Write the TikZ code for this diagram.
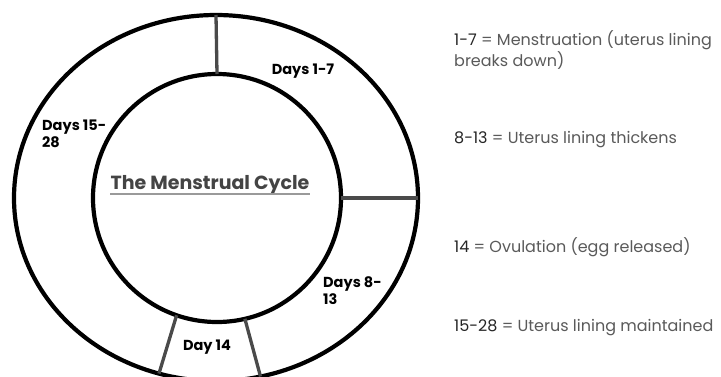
\documentclass[tikz,border=0pt]{standalone}
\usepackage{fontspec}
\setmainfont{Poppins}
\usetikzlibrary{shapes.geometric}
\definecolor{divcol}{HTML}{4A4A4A}
\definecolor{txtgray}{HTML}{5A5A5A}
\definecolor{numcol}{HTML}{262626}
\definecolor{titlecol}{HTML}{444444}
\definecolor{ulcol}{HTML}{9A9A9A}
\tikzset{
  ring/.style={draw=black, line width=4.2pt, inner sep=0pt, outer sep=0pt},
  divider/.style={draw=divcol, line width=3.3pt},
  seglabel/.style={font=\fontsize{14.5}{17}\selectfont\bfseries, text=black, align=left, inner sep=0pt},
  legend/.style={font=\fontsize{16}{17.5}\selectfont, text=txtgray, align=left, anchor=west, inner sep=0pt},
}
\newcommand{\num}[1]{\textcolor{numcol}{#1}}
\begin{document}
\begin{tikzpicture}[x=1pt,y=-1pt]
\clip (0,0) rectangle (721,376);
\fill[white] (0,0) rectangle (721,376);
% rings
\node[ring, ellipse, minimum width=404pt, minimum height=366pt] (outer) at (216,198) {};
\node[ring, circle, minimum size=248pt] (inner) at (217,198) {};
% dividers
\draw[divider] (inner.90) -- (outer.90);
\draw[divider] (inner.0) -- (outer.0);
\draw[divider] (inner.251) -- (outer.252);
\draw[divider] (inner.283.5) -- (outer.284.5);
% segment labels
\node[seglabel] (d17) at (303,71) {Days 1-7};
\node[seglabel, anchor=north west] (d1528) at (42,120) {Days 15-\\28};
\node[seglabel, anchor=north west] (d813) at (323,276) {Days 8-\\13};
\node[seglabel] (d14) at (207,347) {Day 14};
% title
\node[font=\fontsize{19}{22}\selectfont\bfseries, text=titlecol, inner sep=0pt] (title) at (210,185) {The Menstrual Cycle};
\draw[ulcol, line width=1.8pt] ([yshift=-4.5pt]title.base west) -- ([yshift=-4.5pt]title.base east);
% legend
\node[legend] (l1) at (454,50) {\num{1-7} = Menstruation (uterus lining\\breaks down)};
\node[legend] (l2) at (454,140) {\num{8-13} = Uterus lining thickens};
\node[legend] (l3) at (454,247) {\num{14} = Ovulation (egg released)};
\node[legend] (l4) at (454,328) {\num{15-28} = Uterus lining maintained};
\end{tikzpicture}
\end{document}
